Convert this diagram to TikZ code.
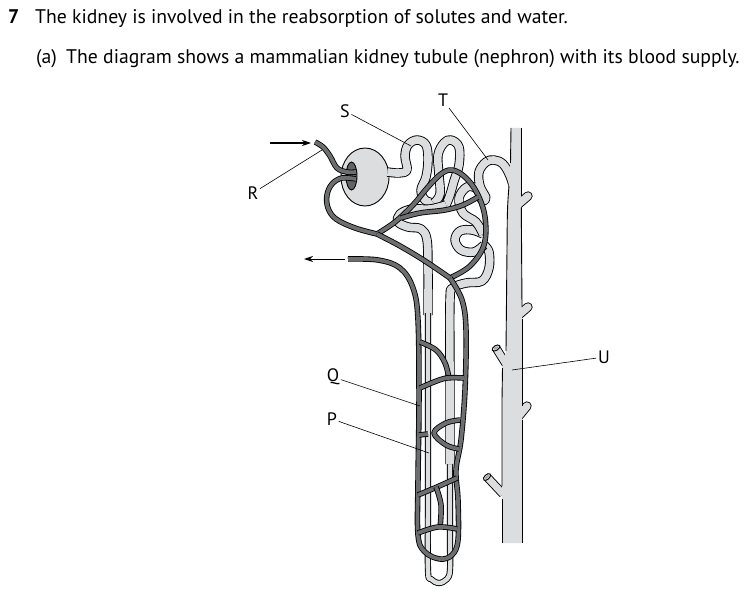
\documentclass[tikz,border=0pt]{standalone}
\usepackage{fontspec}
\setmainfont{PT Sans}
\usetikzlibrary{arrows.meta}
\definecolor{tubegray}{HTML}{DCDDDE}
\definecolor{vesgray}{HTML}{6D6E70}
\begin{document}
\begin{tikzpicture}[x=1pt,y=-1pt,
  tube/.style={line width=0.9pt, draw=black, double=tubegray, double distance=7.6pt, line join=round},
  thintube/.style={line width=0.9pt, draw=black, double=tubegray, double distance=4.4pt, line join=round},
  stub/.style={line width=0.9pt, draw=black, double=tubegray, double distance=7pt},
  bump/.style={line width=0.9pt, draw=black, double=tubegray, double distance=7.5pt, line cap=round},
  vessel/.style={line width=0.85pt, draw=black, double=vesgray, double distance=3.8pt, line join=round},
  edge/.style={line width=0.9pt, draw=black},
  leader/.style={line width=0.6pt, draw=black},
  flow/.style={line width=1pt, draw=black, -{Stealth[length=9pt,width=6pt]}},
  lab/.style={font=\fontsize{18}{20}\selectfont, inner sep=1.5pt},
  txt/.style={font=\fontsize{19.7}{22}\selectfont, inner sep=0pt, anchor=base west},
  sm/.style={smooth, tension=0.6}]
\useasboundingbox[fill=white] (0,0) rectangle (756,594);

% ---------- header text ----------
\node[txt, font=\bfseries\fontsize{19.7}{22}\selectfont] (num) at (8,24) {7};
\node[txt] (line1) at (35,24) {The kidney is involved in the reabsorption of solutes and water.};
\node[txt] (parta) at (36,64) {(a)};
\node[txt] (line2) at (66,64) {The diagram shows a mammalian kidney tubule (nephron) with its blood supply.};

% ---------- Bowman's capsule ----------
\draw[line width=0.9pt, fill=tubegray] (365,177) ellipse [x radius=24pt, y radius=29pt];
\draw[line width=0.9pt, fill=vesgray!90!black] (351.5,176) ellipse [x radius=5.5pt, y radius=14pt];

% ---------- nephron tubule ----------
% neck and first loop
\draw[tube] plot[sm] coordinates {(387.5,172) (399,173) (407,170) (405,156) (408,145) (417,140) (426,145) (428,160) (426,177) (421,190) (425,200) (434,203)};
% second loop
\draw[tube] plot[sm] coordinates {(434,203) (440,194) (439,175) (438,155) (444,143) (451,140) (459,147) (459,165) (454,181) (450,195) (446,205)};
% sideways loop into descending limb
\draw[tube] plot[sm] coordinates {(446,205) (430,209) (412,209) (400,214) (398,222) (408,227) (421,229) (427,240) (428,270) (428,300) (428,315)};
\draw[thintube] plot[sm] coordinates {(428,313) (428,400) (428,500) (428,570) (431,579) (439,583) (447,579) (450,570) (450,540) (450,462)};
\draw[tube] plot[sm] coordinates {(450,464) (450,380) (450,300) (453,288) (466,283) (482,281) (489,268) (489,252) (484,245)};
\draw[tube] plot[sm] coordinates {(484,245) (474,252) (461,250) (455,240) (460,231) (472,230) (483,234)};
\draw[tube] plot[sm] coordinates {(483,234) (476,222) (463,213) (459,198) (467,187) (477,189) (482,200) (486,198) (480,186) (479,172) (486,162) (494,160) (503,164) (510,176) (515,192)};

% ---------- collecting duct ----------
\draw[stub] (506,364) -- (496,348);
\draw[stub] (503,494) -- (487,477);
\draw[bump] (514,208) -- (528,196);
\draw[bump] (514,319) -- (528,307);
\draw[bump] (514,422) -- (527,406);
\fill[tubegray] (511,128) -- (521,128) -- (521,190) -- (522,300) -- (522,543) -- (502,543) -- (502,368) -- (506,352) -- (507,250) -- (508.5,190) -- (510,165) -- cycle;
\draw[edge] (511,128) -- (510.5,163);
\draw[edge] plot[sm] coordinates {(509,186) (507.5,210) (507,250) (506.5,300) (506,351)};
\draw[edge] (502.5,368) -- (502,400) -- (502,486);
\draw[edge] (502,499) -- (502,543);
\draw[edge] (521,128) -- (521,196);
\draw[edge] (521.3,207.5) -- (522,307);
\draw[edge] (522,318.5) -- (522,406);
\draw[edge] (522,420) -- (522,543);
\draw[edge, fill=tubegray] (496,348) ellipse [x radius=4.3pt, y radius=2.4pt, rotate=32];
\fill[vesgray!60] (496,348) ellipse [x radius=2.6pt, y radius=1.1pt, rotate=32];
\draw[edge, fill=tubegray] (487,477) ellipse [x radius=4.3pt, y radius=2.4pt, rotate=43];
\fill[vesgray!60] (487,477) ellipse [x radius=2.6pt, y radius=1.1pt, rotate=43];

% ---------- blood vessels ----------
\draw[vessel] plot[sm] coordinates {(315,142) (323,147) (330,156) (337,168) (347,172) (356,172)};
\draw[vessel] plot[sm] coordinates {(356,179) (342,178) (332,184) (327,195) (328,208) (336,219) (355,228) (377,234)};
\draw[vessel] plot[sm] coordinates {(377,234) (395,222) (413,205) (428,187) (441,174) (452,170) (465,177) (477,193) (485,217) (484,245) (470,266) (450,278)};
\draw[vessel] plot[sm] coordinates {(377,234) (400,246) (425,261) (450,278)};
\draw[vessel] plot[sm] coordinates {(401,218) (420,213) (445,210) (463,205) (478,197)};
\draw[vessel] plot[sm] coordinates {(348,259) (378,260) (400,268) (413,288) (418,320) (419,400) (418,480) (418,535) (425,552) (440,559) (452,555) (458,540) (458,500) (456,470) (461,440) (465,390) (466,330) (462,300) (450,278)};
\draw[vessel] plot[sm] coordinates {(420,342) (436,350) (445,363) (449,378)};
\draw[vessel] plot[sm] coordinates {(420,388) (434,382) (447,378) (464,378)};
\draw[vessel] plot[sm] coordinates {(460,420) (446,423) (434,433) (446,445) (459,449)};
\draw[vessel] (419,435) -- (428,434);
\draw[vessel] plot[sm] coordinates {(418,495) (437,487) (457,478)};
\draw[vessel] plot[sm] coordinates {(436,487) (441,505) (440,528)};
\draw[vessel] plot[sm] coordinates {(418,533) (438,527) (457,529)};

% ---------- arrows ----------
\coordinate (inA) at (270,143);
\coordinate (inB) at (311,143);
\coordinate (outA) at (345,259);
\coordinate (outB) at (304,259);
\draw[flow] (inA) -- (inB);
\draw[flow] (outA) -- (outB);

% ---------- labels ----------
\node[lab] (S) at (345,111) {S};
\node[lab] (T) at (443,100) {T};
\node[lab] (R) at (253,193) {R};
\node[lab] (Q) at (333,377) {Q};
\node[lab] (P) at (332,419) {P};
\node[lab] (U) at (604,357) {U};
\coordinate (sE) at (411,146);
\coordinate (tE) at (488,160);
\coordinate (rE) at (322,150);
\coordinate (qE) at (420,406);
\coordinate (pE) at (429,453);
\coordinate (uE) at (512,370);
\draw[leader] (S) -- (sE);
\draw[leader] (T) -- (tE);
\draw[leader] (R) -- (rE);
\draw[leader] (Q) -- (qE);
\draw[leader] (P) -- (pE);
\draw[leader] (U) -- (uE);
\end{tikzpicture}
\end{document}
